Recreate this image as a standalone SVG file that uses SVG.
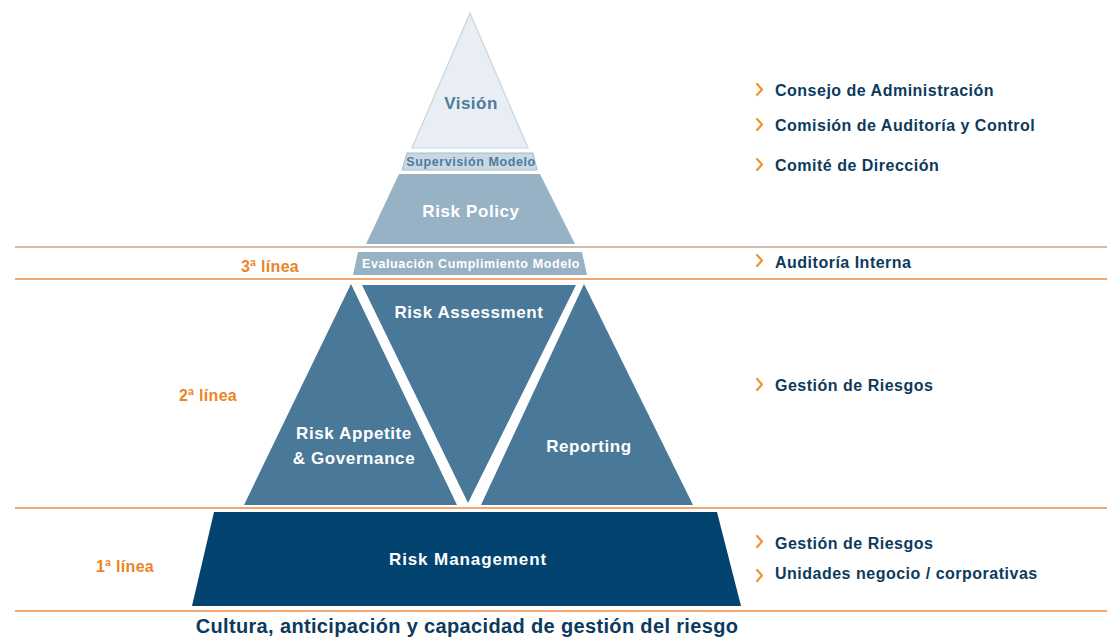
<svg xmlns="http://www.w3.org/2000/svg" width="1107" height="637" viewBox="0 0 1107 637">
<style>
.lbl{font-family:"Liberation Sans",Arial,sans-serif;font-weight:bold;font-size:16px;letter-spacing:0.5px;fill:#0d3a5c}
.chev{fill:none;stroke:#f0932b;stroke-width:2.2;stroke-linecap:round;stroke-linejoin:round}
.lin{font-family:"Liberation Sans",Arial,sans-serif;font-weight:bold;font-size:16px;letter-spacing:0.3px;fill:#ec8424;text-anchor:middle}
.w{font-family:"Liberation Sans",Arial,sans-serif;font-weight:bold;fill:#ffffff;text-anchor:middle;font-size:17px;letter-spacing:0.6px}
.s{font-size:12.5px;letter-spacing:0.6px}
.sep{stroke:#ec8a3c;stroke-width:1.6}
</style>
<rect width="1107" height="637" fill="#ffffff"/>
<g id="connectors">
<line class="sep" x1="15" y1="247" x2="1107" y2="247" style="stroke:#c4a48e"/>
<line class="sep" x1="15" y1="279" x2="1107" y2="279"/>
<line class="sep" x1="15" y1="508" x2="1107" y2="508"/>
<line class="sep" x1="15" y1="611" x2="1107" y2="611"/>
</g>
<g id="vision">
<polygon points="470,13 528,148 412,148" fill="#e8eef3" stroke="#c6d5e0" stroke-width="1.2"/>
<text x="471" y="109" text-anchor="middle" style="font-family:'Liberation Sans',Arial,sans-serif;font-weight:bold;font-size:17px;letter-spacing:0.5px;fill:#4e7b9a">Visión</text>
</g>
<g id="supervision">
<polygon points="407,153 533,153 537,170 402,170" fill="#c9d8e3" stroke="#a4bccd" stroke-width="1"/>
<text x="471" y="166" text-anchor="middle" class="s" style="font-family:'Liberation Sans',Arial,sans-serif;font-weight:bold;fill:#4e7b9a">Supervisión Modelo</text>
</g>
<g id="risk-policy">
<polygon points="399,174 540,174 575,244 366,244" fill="#98b2c5"/>
<text class="w" x="471" y="217">Risk Policy</text>
</g>
<g id="evaluacion">
<polygon points="358,252 582,252 587,275 353,275" fill="#98b2c5"/>
<text class="w s" x="471" y="268">Evaluación Cumplimiento Modelo</text>
</g>
<g id="risk-appetite">
<polygon points="351,284 457,505 244,505" fill="#4a7898"/>
<text class="w" x="354" y="439">Risk Appetite</text>
<text class="w" x="354" y="464">&amp; Governance</text>
</g>
<g id="risk-assessment">
<polygon points="362,285 576,285 468,503" fill="#4a7898"/>
<text class="w" x="469" y="318">Risk Assessment</text>
</g>
<g id="reporting">
<polygon points="584,284 693,505 481,505" fill="#4a7898"/>
<text class="w" x="589" y="452">Reporting</text>
</g>
<g id="risk-management">
<polygon points="214,512 717,512 741,606 192,606" fill="#03436f"/>
<text class="w" x="468" y="565" style="letter-spacing:0.9px">Risk Management</text>
</g>
<g id="lines-labels">
<text class="lin" x="270" y="272">3ª línea</text>
<text class="lin" x="208" y="401">2ª línea</text>
<text class="lin" x="125" y="572">1ª línea</text>
</g>
<g id="right-labels">
<path class="chev" d="M757,84 L762,89.5 L757,95"/><text class="lbl" x="775" y="96">Consejo de Administración</text>
<path class="chev" d="M757,119 L762,124.5 L757,130"/><text class="lbl" x="775" y="131">Comisión de Auditoría y Control</text>
<path class="chev" d="M757,159 L762,164.5 L757,170"/><text class="lbl" x="775" y="171">Comité de Dirección</text>
<path class="chev" d="M757,255 L762,260.5 L757,266"/><text class="lbl" x="775" y="268">Auditoría Interna</text>
<path class="chev" d="M757,379 L762,384.5 L757,390"/><text class="lbl" x="775" y="391">Gestión de Riesgos</text>
<path class="chev" d="M757,536 L762,541.5 L757,547"/><text class="lbl" x="775" y="549">Gestión de Riesgos</text>
<path class="chev" d="M757,570 L762,575.5 L757,581"/><text class="lbl" x="775" y="579">Unidades negocio / corporativas</text>
</g>
<g id="footer">
<text x="467" y="633" text-anchor="middle" style="font-family:'Liberation Sans',Arial,sans-serif;font-weight:bold;font-size:20px;letter-spacing:0.35px;fill:#0d3a5c">Cultura, anticipación y capacidad de gestión del riesgo</text>
</g>
</svg>
